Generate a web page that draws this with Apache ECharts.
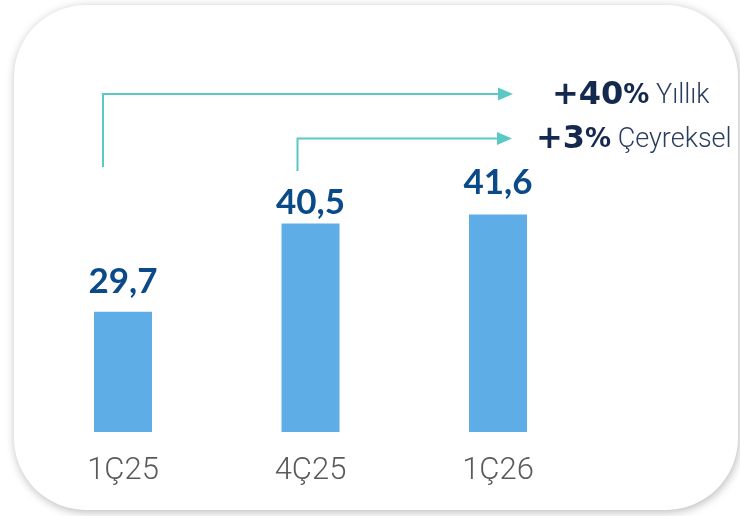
<!DOCTYPE html>
<html>
<head>
<meta charset="utf-8">
<script src="https://cdn.jsdelivr.net/npm/echarts@6/dist/echarts.min.js"></script>
<style>
html,body{margin:0;padding:0;background:#fff;}
#chart{width:740px;height:516px;}
</style>
</head>
<body>
<div id="chart"></div>
<script>
var categories = ['1Ç25', '4Ç25', '1Ç26'];
var values = [29.7, 40.5, 41.6];
var valueLabels = ['29,7', '40,5', '41,6'];
var yoyText = ['+40', '%', 'Yıllık'];
var qoqText = ['+3', '%', 'Çeyreksel'];

var labelDistance = [13, 3, 14];

var chart = echarts.init(document.getElementById('chart'), null, {renderer: 'canvas'});

var option = {
  animation: false,
  backgroundColor: '#ffffff',
  grid: {left: 29.25, width: 562.5, top: 64, bottom: 84},
  xAxis: {
    type: 'category',
    data: categories,
    axisLine: {show: false},
    axisTick: {show: false},
    axisLabel: {
      margin: 24,
      fontSize: 31,
      fontFamily: 'Roboto',
      fontWeight: 300,
      color: '#5a5a5a'
    }
  },
  yAxis: {
    type: 'value',
    min: 15,
    max: 60,
    show: false,
    splitLine: {show: false}
  },
  series: [{
    type: 'bar',
    barWidth: 58,
    itemStyle: {color: '#5EADE7'},
    data: values.map(function (v, i) {
      return {
        value: v,
        label: {
          show: true,
          position: 'top',
          distance: labelDistance[i],
          formatter: valueLabels[i],
          fontSize: 35,
          fontWeight: 'bold',
          fontFamily: 'Lato',
          color: '#0B4A88'
        }
      };
    })
  }]
};

chart.setOption(option);

var teal = '#5BC8C6';
function px(i) { return chart.convertToPixel({xAxisIndex: 0}, i); }

function arrow(x0, yBottom, yTop, xEnd) {
  return [
    {type: 'polyline', silent: true, shape: {points: [[x0, yBottom], [x0, yTop], [xEnd, yTop]]},
     style: {stroke: teal, lineWidth: 2, fill: null}},
    {type: 'polygon', silent: true, shape: {points: [[xEnd, yTop - 6.5], [xEnd + 15, yTop], [xEnd, yTop + 6.5]]},
     style: {fill: teal}}
  ];
}

var x0 = px(0), x1 = px(1);
var graphics = [
  {type: 'rect', z: -10, silent: true,
   shape: {x: 14, y: 5, width: 724, height: 505, r: 72},
   style: {fill: '#ffffff', shadowBlur: 10, shadowColor: 'rgba(0,0,0,0.28)', shadowOffsetX: 1, shadowOffsetY: 2}}
];
graphics = graphics.concat(arrow(x0 - 20, 167, 94, 498));
graphics = graphics.concat(arrow(x1 - 13, 171, 138.5, 497));

var rich = {
  a: {fontSize: 32, fontWeight: 'bold', fontFamily: 'DejaVu Sans', fill: '#14294D'},
  b: {fontSize: 26, fontWeight: 'bold', fontFamily: 'DejaVu Sans', fill: '#14294D'},
  c: {fontSize: 27, fontWeight: 300, fontFamily: 'Roboto', fill: '#2B3D5E'}
};
graphics.push({
  type: 'text', silent: true, x: 552, y: 112,
  style: {
    text: '{a|' + yoyText[0] + '}{b|' + yoyText[1] + '}{c| ' + yoyText[2] + '}',
    textVerticalAlign: 'bottom',
    rich: rich
  }
});
graphics.push({
  type: 'text', silent: true, x: 536, y: 156,
  style: {
    text: '{a|' + qoqText[0] + '}{b|' + qoqText[1] + '}{c| ' + qoqText[2] + '}',
    textVerticalAlign: 'bottom',
    rich: rich
  }
});

chart.setOption({graphic: graphics});
</script>
</body>
</html>
